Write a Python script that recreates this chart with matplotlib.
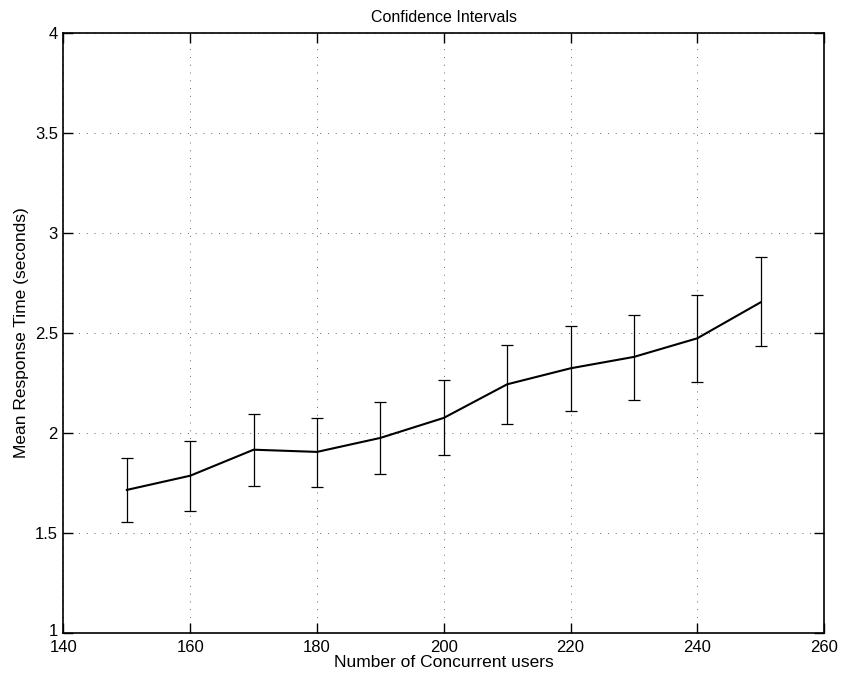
import matplotlib
matplotlib.use("Agg")
import matplotlib.pyplot as plt
import matplotlib.transforms as mtransforms

users = [150, 160, 170, 180, 190, 200, 210, 220, 230, 240, 250]
mean_rt = [1.714, 1.785, 1.915, 1.904, 1.974, 2.074, 2.242, 2.322, 2.379, 2.472, 2.652]
upper = [1.874, 1.959, 2.096, 2.075, 2.156, 2.262, 2.441, 2.532, 2.589, 2.687, 2.880]
lower = [1.552, 1.609, 1.734, 1.731, 1.793, 1.887, 2.044, 2.107, 2.166, 2.254, 2.432]

xticks = [140, 160, 180, 200, 220, 240, 260]
yticks = [1, 1.5, 2, 2.5, 3, 3.5, 4]
ytick_labels = ["1", "1.5", "2", "2.5", "3", "3.5", "4"]

plt.rcParams['font.family'] = ['Liberation Sans', 'DejaVu Sans']

fig = plt.figure(figsize=(8.41, 6.79), dpi=100)
ax = fig.add_axes([0.0755, 0.0682, 0.9798 - 0.0755, 0.9518 - 0.0682])

yerr = [[m - l for m, l in zip(mean_rt, lower)], [u - m for m, u in zip(mean_rt, upper)]]
ax.errorbar(users, mean_rt, yerr=yerr, color='black', linewidth=1.5,
            elinewidth=0.9, capsize=4.5, capthick=0.9)

ax.set_xlim(140, 260)
ax.set_ylim(1, 4)
ax.set_xticks(xticks)
ax.set_yticks(yticks)
ax.set_yticklabels(ytick_labels)
ax.grid(True, linestyle=(0, (1, 7)), color='black', linewidth=0.7, alpha=0.6)
ax.tick_params(direction='in', length=7, width=1, top=True, right=True,
               labelsize=12)
ax.tick_params(axis='x', pad=5)
ax.tick_params(axis='y', pad=4)
for s in ax.spines.values():
    s.set_linewidth(1.2)

# nudge the lowest y label up slightly so it does not collide with "140"
first = ax.get_yticklabels()[0]
first.set_transform(first.get_transform() +
                    mtransforms.ScaledTranslation(0, 3 / 100, fig.dpi_scale_trans))

ax.set_title("Confidence Intervals", fontsize=11.5, pad=8)
ax.set_xlabel("Number of Concurrent users", fontsize=12.5, labelpad=0.5)
ax.set_ylabel("Mean Response Time (seconds)", fontsize=12.5, labelpad=4)

fig.savefig("out.png", dpi=100)
